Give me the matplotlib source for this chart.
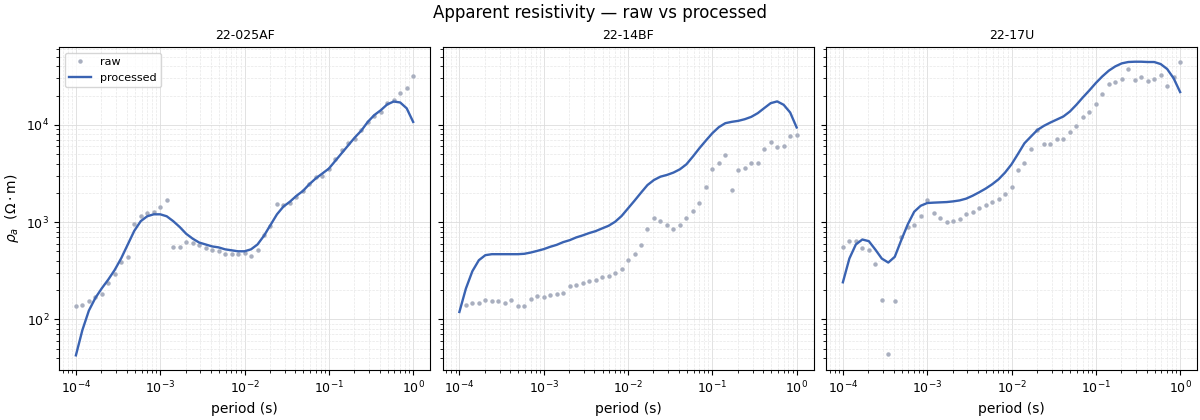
import numpy as np
import matplotlib
matplotlib.use("Agg")
import matplotlib.pyplot as plt

periods = np.logspace(-4, 0, 53)

stations = ["22-025AF", "22-14BF", "22-17U"]

raw_025AF = [2.134, 2.151, 2.186, 2.23, 2.265, 2.378, 2.471, 2.588, 2.636, 2.976,
             3.058, 3.089, 3.107, 3.155, 3.227, 2.749, 2.749, 2.794, 2.783, 2.763,
             2.729, 2.708, 2.701, 2.677, 2.667, 2.667, 2.684, 2.656, 2.708, 2.866,
             2.959, 3.182, 3.172, 3.196, 3.261, 3.320, 3.392, 3.467, 3.474, 3.543,
             3.653, 3.742, 3.814, 3.859, 3.948, 4.027, 4.086, 4.127, 4.223, 4.254,
             4.326, 4.378, 4.502]
proc_025AF = [1.63, 1.89, 2.09, 2.22, 2.32, 2.41, 2.51, 2.63, 2.77, 2.91,
              3.01, 3.06, 3.08, 3.08, 3.06, 3.01, 2.95, 2.88, 2.83, 2.79,
              2.77, 2.75, 2.74, 2.72, 2.71, 2.70, 2.70, 2.72, 2.77, 2.86,
              2.97, 3.08, 3.16, 3.21, 3.27, 3.32, 3.39, 3.45, 3.50, 3.55,
              3.63, 3.71, 3.79, 3.87, 3.94, 4.03, 4.10, 4.15, 4.21, 4.24,
              4.23, 4.17, 4.03]

raw_14BF = [np.nan, 2.144, 2.172, 2.172, 2.196, 2.186, 2.186, 2.172, 2.196, 2.141,
            2.141, 2.206, 2.244, 2.227, 2.247, 2.258, 2.275, 2.340, 2.357, 2.378,
            2.395, 2.402, 2.433, 2.450, 2.474, 2.522, 2.608, 2.667, 2.763, 2.924,
            3.041, 3.007, 2.966, 2.924, 2.966, 3.038, 3.110, 3.192, 3.361, 3.543,
            3.605, 3.687, 3.326, 3.533, 3.557, 3.605, 3.605, 3.753, 3.825, 3.770,
            3.784, 3.883, 3.893]
proc_14BF = [2.076, 2.316, 2.495, 2.608, 2.660, 2.670, 2.670, 2.670, 2.670, 2.670,
             2.674, 2.687, 2.704, 2.722, 2.746, 2.766, 2.794, 2.814, 2.842, 2.863,
             2.887, 2.907, 2.935, 2.962, 3.003, 3.062, 3.141, 3.220, 3.302, 3.381,
             3.433, 3.467, 3.485, 3.509, 3.543, 3.594, 3.674, 3.759, 3.838, 3.914,
             3.976, 4.017, 4.031, 4.041, 4.058, 4.082, 4.120, 4.172, 4.223, 4.241,
             4.206, 4.127, 3.973]

raw_17U = [2.749, 2.801, 2.801, 2.729, 2.718, 2.574, 2.203, 1.639, 2.192, 2.845,
           2.95, 2.966, 3.062, 3.223, 3.089, 3.038, 2.997, 3.007, 3.027, 3.082,
           3.100, 3.141, 3.172, 3.203, 3.234, 3.285, 3.361, 3.536, 3.605, 3.756,
           3.948, 3.804, 3.804, 3.856, 3.856, 3.928, 3.990, 4.079, 4.134, 4.216,
           4.320, 4.423, 4.443, 4.471, 4.577, 4.460, 4.495, 4.450, 4.471, 4.515,
           4.399, 4.495, 4.646]
proc_17U = [2.381, 2.625, 2.770, 2.821, 2.804, 2.718, 2.625, 2.584, 2.643, 2.814,
            2.976, 3.107, 3.168, 3.196, 3.200, 3.203, 3.206, 3.213, 3.223, 3.241,
            3.271, 3.306, 3.344, 3.388, 3.440, 3.509, 3.594, 3.701, 3.811, 3.880,
            3.948, 3.990, 4.024, 4.055, 4.086, 4.137, 4.206, 4.282, 4.354, 4.430,
            4.498, 4.557, 4.601, 4.632, 4.646, 4.649, 4.649, 4.646, 4.646, 4.625,
            4.574, 4.478, 4.337]

raw_all = [raw_025AF, raw_14BF, raw_17U]
proc_all = [proc_025AF, proc_14BF, proc_17U]

RAW_COLOR = "#a9afbf"
LINE_COLOR = "#3a63b2"

fig, axes = plt.subplots(1, 3, figsize=(12, 4.2), dpi=100, sharey=True)
fig.subplots_adjust(left=0.0492, right=0.9975, top=0.888, bottom=0.119, wspace=0.0337)

for ax, name, raw, proc in zip(axes, stations, raw_all, proc_all):
    ax.plot(periods, 10 ** np.array(raw, dtype=float), linestyle="none", marker="o",
            markersize=2.2, color=RAW_COLOR, label="raw")
    ax.plot(periods, 10 ** np.array(proc, dtype=float), color=LINE_COLOR, lw=1.7,
            label="processed")
    ax.set_xscale("log")
    ax.set_yscale("log")
    ax.set_title(name, fontsize=9)
    ax.set_xlabel("period (s)", fontsize=10)
    ax.grid(True, which="major", color="#dddddd", lw=0.6)
    ax.grid(True, which="minor", color="#e8e8e8", lw=0.5, linestyle="--")
    ax.tick_params(labelsize=9)

axes[0].set_ylabel(r"$\rho_a$  ($\Omega\cdot$m)", fontsize=10)
axes[0].legend(loc="upper left", fontsize=8)
fig.suptitle("Apparent resistivity — raw vs processed", fontsize=12, y=0.99)

fig.savefig("out.png", dpi=100)
